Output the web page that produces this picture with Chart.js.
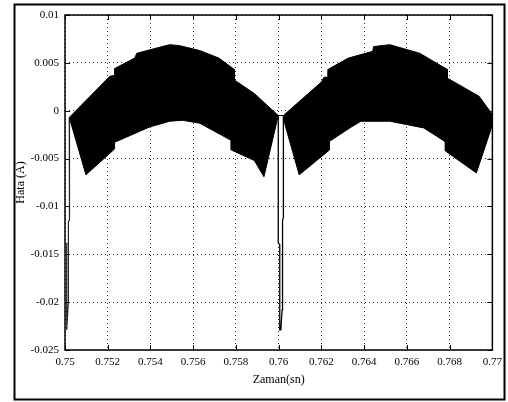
<!DOCTYPE html>
<html>
<head>
<meta charset="utf-8">
<script src="https://cdn.jsdelivr.net/npm/chart.js@4.4.0/dist/chart.umd.min.js"></script>
<style>
  html, body { margin: 0; padding: 0; background: #fff; }
  #wrap { width: 508px; height: 402px; }
</style>
</head>
<body>
<div id="wrap"><canvas id="c" width="508" height="402"></canvas></div>
<script>
// envelope of the error signal
const upperX = [0.75020, 0.75210, 0.75232, 0.75232, 0.75326, 0.75336, 0.75420, 0.75490, 0.75536, 0.75629, 0.75720, 0.75793, 0.75793, 0.75886, 0.75998,
                0.76022, 0.76200, 0.76212, 0.76230, 0.76230, 0.76326, 0.76440, 0.76444, 0.76520, 0.76660, 0.76790, 0.76790, 0.76938, 0.77000];
const upperY = [-0.0007, 0.0036, 0.0037, 0.0044, 0.0055, 0.0060, 0.0065, 0.0069, 0.0068, 0.0063, 0.0055, 0.0043, 0.0032, 0.0018, -0.0005,
                -0.0005, 0.0030, 0.0035, 0.0035, 0.0043, 0.0055, 0.0062, 0.0067, 0.0069, 0.0060, 0.0043, 0.0034, 0.0015, -0.0004];
const lowerX = [0.75020, 0.75098, 0.75232, 0.75232, 0.75396, 0.75490, 0.75550, 0.75630, 0.75778, 0.75778, 0.75886, 0.75931, 0.75998,
                0.76022, 0.76030, 0.76096, 0.76238, 0.76238, 0.76340, 0.76385, 0.76520, 0.76679, 0.76770, 0.76780, 0.76780, 0.76925, 0.77000];
const lowerY = [-0.0007, -0.0067, -0.0040, -0.0033, -0.0017, -0.0011, -0.0010, -0.0013, -0.0031, -0.0041, -0.0052, -0.0069, -0.0005,
                -0.0005, -0.0015, -0.0067, -0.0041, -0.0032, -0.0017, -0.0011, -0.0011, -0.0018, -0.0031, -0.0033, -0.0042, -0.0065, -0.0015];

// the two downward spikes at the zero crossings
const spike1X = [0.75020, 0.75021, 0.75016, 0.75016, 0.75008, 0.75008];
const spike1Y = [-0.0008, -0.0114, -0.0116, -0.0198, -0.0229, -0.0138];
const spike2X = [0.75998, 0.75998, 0.76005, 0.76005, 0.76010, 0.76016, 0.76018, 0.76018, 0.76022, 0.76022];
const spike2Y = [-0.0005, -0.0138, -0.0140, -0.0229, -0.0229, -0.0208, -0.0198, -0.0114, -0.0112, -0.0005];

const xTicks = [0.75, 0.752, 0.754, 0.756, 0.758, 0.76, 0.762, 0.764, 0.766, 0.768, 0.77];
const xTickLabels = ['0.75', '0.752', '0.754', '0.756', '0.758', '0.76', '0.762', '0.764', '0.766', '0.768', '0.77'];
const yTicks = [-0.025, -0.02, -0.015, -0.01, -0.005, 0, 0.005, 0.01];
const yTickLabels = ['-0.025', '-0.02', '-0.015', '-0.01', '-0.005', '0', '0.005', '0.01'];

const pts = (xs, ys) => xs.map((x, i) => ({ x, y: ys[i] }));
const FONT = 'Liberation Serif, Times New Roman, serif';

const frame = {
  id: 'frame',
  beforeDraw(chart) {
    const ctx = chart.ctx;
    ctx.save();
    ctx.fillStyle = '#fff';
    ctx.fillRect(0, 0, chart.width, chart.height);
    ctx.strokeStyle = '#000';
    ctx.lineWidth = 2;
    ctx.strokeRect(14.5, 4.5, 490, 395);
    ctx.restore();
  },
  afterDatasetsDraw(chart) {
    const { ctx, chartArea: a, scales } = chart;
    ctx.save();
    ctx.strokeStyle = '#000';
    ctx.lineWidth = 1;
    ctx.beginPath();
    xTicks.forEach(v => {
      const px = Math.round(scales.x.getPixelForValue(v)) + 0.5;
      ctx.moveTo(px, a.bottom); ctx.lineTo(px, a.bottom - 5);
      ctx.moveTo(px, a.top); ctx.lineTo(px, a.top + 5);
    });
    yTicks.forEach(v => {
      const py = Math.round(scales.y.getPixelForValue(v)) + 0.5;
      ctx.moveTo(a.left, py); ctx.lineTo(a.left + 5, py);
      ctx.moveTo(a.right, py); ctx.lineTo(a.right - 5, py);
    });
    ctx.stroke();
    ctx.lineWidth = 1.5;
    ctx.strokeRect(a.left, a.top, a.right - a.left, a.bottom - a.top);
    ctx.restore();
  }
};

new Chart(document.getElementById('c'), {
  type: 'line',
  data: {
    datasets: [
      { data: pts(upperX, upperY), borderColor: '#000', backgroundColor: '#000', borderWidth: 1, fill: '+1' },
      { data: pts(lowerX, lowerY), borderColor: '#000', borderWidth: 1, fill: false },
      { data: pts(spike1X, spike1Y), borderColor: '#222', borderWidth: 1.2, fill: false },
      { data: pts(spike2X, spike2Y), borderColor: '#000', borderWidth: 1.3, fill: false }
    ]
  },
  options: {
    responsive: false,
    animation: false,
    events: [],
    layout: { padding: { top: 15, right: 14, bottom: 0, left: 0 } },
    elements: { point: { radius: 0 }, line: { tension: 0 } },
    plugins: { legend: { display: false }, tooltip: { enabled: false } },
    scales: {
      x: {
        type: 'linear', min: 0.75, max: 0.77,
        afterBuildTicks: s => { s.ticks = xTicks.map(v => ({ value: v })); },
        afterFit: s => { s.height = 52; },
        grid: { color: '#333', lineWidth: 1, drawTicks: false },
        border: { display: false, dash: [1, 3] },
        ticks: {
          color: '#000', padding: 6, maxRotation: 0, autoSkip: false,
          font: { family: FONT, size: 11 },
          callback: (v, i) => xTickLabels[i]
        },
        title: { display: true, text: 'Zaman(sn)', color: '#000', font: { family: FONT, size: 12 }, padding: { top: 0, bottom: 15 } }
      },
      y: {
        type: 'linear', min: -0.025, max: 0.01,
        afterBuildTicks: s => { s.ticks = yTicks.map(v => ({ value: v })); },
        afterFit: s => { s.width = 65; },
        grid: { color: '#333', lineWidth: 1, drawTicks: false },
        border: { display: false, dash: [1, 3] },
        ticks: {
          color: '#000', padding: 6, autoSkip: false,
          font: { family: FONT, size: 11 },
          callback: (v, i) => yTickLabels[i]
        },
        title: { display: true, text: 'Hata (A)', color: '#000', font: { family: FONT, size: 12 }, padding: { top: 14, bottom: 0 } }
      }
    }
  },
  plugins: [frame]
});
</script>
</body>
</html>
